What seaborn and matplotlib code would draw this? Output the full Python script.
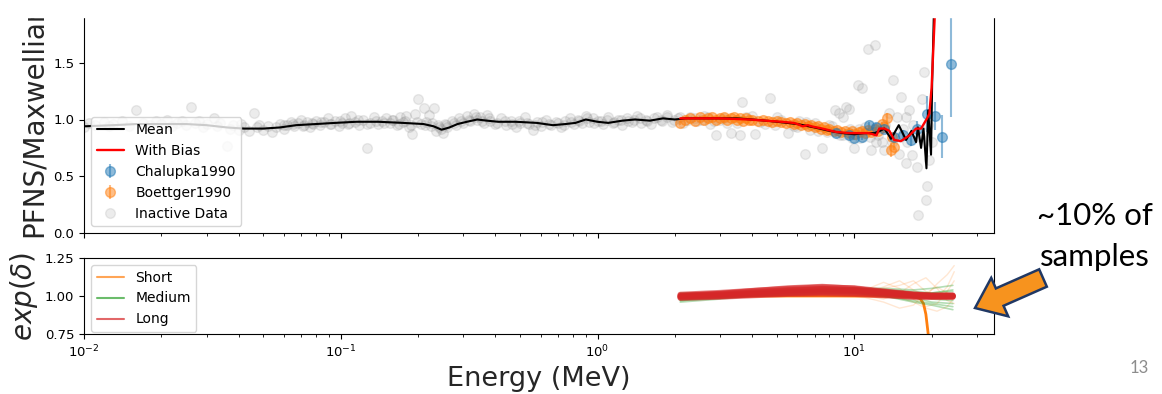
import matplotlib
matplotlib.use("Agg")
import matplotlib.pyplot as plt
from matplotlib.lines import Line2D
from matplotlib.patches import FancyArrow, Rectangle
import pandas as pd
import seaborn as sns

# ---- data ----

# inactive data (gray), low energy band
gray_e_lo = [
    0.0100, 0.0105, 0.011, 0.012, 0.0125, 0.013, 0.014, 0.015, 0.016, 0.017,
    0.018, 0.019, 0.020, 0.021, 0.022, 0.023, 0.024, 0.025, 0.026, 0.027,
    0.028, 0.029, 0.030, 0.032, 0.033, 0.034, 0.036, 0.037, 0.038, 0.040,
    0.041, 0.042, 0.044, 0.046, 0.047, 0.048, 0.050, 0.052, 0.054, 0.056,
    0.058, 0.060, 0.062, 0.064, 0.066, 0.068, 0.070, 0.072, 0.074, 0.076,
    0.078, 0.080, 0.083, 0.086, 0.089, 0.092, 0.095, 0.098, 0.101, 0.104,
    0.107, 0.110, 0.114, 0.118, 0.122, 0.127, 0.130, 0.135, 0.140, 0.145,
    0.150, 0.155, 0.160, 0.165, 0.170, 0.175, 0.180, 0.185, 0.190, 0.195,
    0.200, 0.205, 0.210, 0.215, 0.220, 0.225, 0.230, 0.235, 0.240, 0.245,
    0.250, 0.255, 0.260, 0.270, 0.280, 0.290, 0.300, 0.310, 0.320, 0.330,
    0.340, 0.350, 0.360, 0.370, 0.380, 0.400, 0.420, 0.440, 0.460, 0.480,
    0.500, 0.520, 0.540, 0.560, 0.580, 0.600, 0.630, 0.660, 0.690, 0.720,
    0.750, 0.780, 0.810, 0.840, 0.870, 0.900, 0.930, 0.960, 1.00, 1.05,
    1.10, 1.15, 1.20, 1.25, 1.30, 1.36, 1.42, 1.48, 1.55, 1.62,
    1.70, 1.78, 1.86, 1.95, 2.05, 2.15, 2.30, 2.45, 2.60, 2.75,
]
gray_y_lo = [
    0.93, 0.97, 0.95, 0.98, 0.94, 0.96, 0.99, 0.94, 1.08, 0.97,
    0.95, 0.99, 0.96, 1.00, 0.94, 0.97, 0.99, 0.95, 1.11, 0.97,
    0.99, 0.93, 0.96, 1.01, 0.94, 0.97, 0.77, 0.92, 0.95, 0.91,
    0.96, 0.93, 0.90, 1.06, 0.93, 0.95, 0.91, 0.94, 0.89, 0.93,
    0.96, 0.92, 0.95, 0.98, 0.94, 0.97, 1.00, 0.95, 0.98, 0.93,
    0.96, 0.99, 0.95, 0.98, 1.01, 0.96, 0.99, 0.94, 0.97, 1.01,
    0.96, 1.03, 0.98, 0.95, 1.00, 0.75, 0.97, 1.02, 0.96, 0.99,
    1.01, 0.97, 1.00, 0.95, 1.02, 0.98, 1.03, 0.93, 0.87, 1.05,
    1.18, 0.96, 1.10, 0.98, 1.04, 0.94, 1.10, 0.90, 0.95, 0.92,
    0.88, 0.96, 0.93, 0.99, 0.95, 1.01, 0.97, 1.03, 0.99, 1.05,
    1.00, 1.02, 0.97, 1.04, 0.99, 0.96, 1.01, 0.95, 0.99, 0.93,
    0.97, 1.02, 0.96, 0.91, 0.98, 0.94, 1.00, 0.95, 0.98, 0.93,
    0.99, 1.01, 0.96, 1.00, 0.97, 1.03, 0.98, 1.01, 0.99, 0.96,
    1.02, 0.97, 1.00, 0.95, 1.01, 0.98, 1.03, 0.97, 1.00, 0.96,
    1.02, 0.99, 1.04, 0.98, 1.01, 0.97, 1.02, 0.99, 1.03, 0.96,
]

# extra inactive points packed tight around the mean
gray_e_band = [
    0.060, 0.065, 0.071, 0.077, 0.084, 0.091, 0.099, 0.108, 0.117, 0.126,
    0.137, 0.148, 0.158, 0.168, 0.178, 0.188, 0.198, 0.212, 0.226, 0.242,
    0.258, 0.275, 0.295, 0.315, 0.335, 0.355, 0.378, 0.405, 0.435, 0.465,
    0.495, 0.53, 0.57, 0.61, 0.65, 0.70, 0.74, 0.79, 0.85, 0.91,
    0.97, 1.03, 1.09, 1.16, 1.23, 1.31, 1.39, 1.47, 1.56, 1.66,
    1.76, 1.87, 1.98, 2.10, 2.25, 2.40, 2.55, 2.70, 2.85, 3.10,
]
gray_y_band = [
    0.95, 0.96, 0.94, 0.97, 0.98, 0.96, 0.99, 0.97, 1.00, 0.96,
    0.99, 0.97, 1.00, 0.96, 0.99, 0.95, 0.98, 0.95, 0.97, 0.93,
    0.95, 0.97, 0.99, 1.00, 1.02, 0.99, 1.01, 0.97, 0.99, 0.96,
    0.99, 0.97, 0.95, 0.98, 0.96, 0.97, 0.95, 0.98, 0.99, 1.01,
    0.97, 0.99, 1.00, 0.98, 1.00, 0.99, 1.00, 1.01, 0.99, 1.01,
    1.00, 1.02, 1.00, 1.02, 1.00, 1.01, 1.00, 1.02, 0.99, 1.01,
]

# inactive data (gray), high energy, more scatter
gray_e_hi = [
    2.9, 3.0, 3.2, 3.3, 3.5, 3.6, 3.65, 3.8, 4.0, 4.1,
    4.3, 4.5, 4.7, 4.9, 5.0, 5.2, 5.5, 5.8, 6.0, 6.1,
    6.4, 6.5, 6.7, 7.0, 7.2, 7.5, 7.8, 8.0, 8.2, 8.4,
    8.7, 8.8, 9.0, 9.0, 9.3, 9.5, 9.6, 9.8, 10.0, 10.3,
    10.4, 10.5, 10.7, 11.0, 11.3, 11.5, 11.6, 12.0, 12.1, 12.4,
    12.8, 13.1, 13.2, 13.7, 14.0, 14.2, 14.6, 14.9, 15.0, 15.2,
    15.5, 15.9, 15.9, 16.0, 16.4, 16.8, 17.0, 17.6, 17.7, 18.0,
    18.4, 18.6, 19.1, 19.2, 19.3, 19.6, 20.0,
]
gray_y_hi = [
    0.86, 1.00, 0.97, 0.88, 0.97, 0.86, 1.15, 1.02, 1.03, 0.87,
    0.98, 0.96, 1.19, 0.95, 1.02, 1.00, 0.88, 0.94, 0.93, 0.99,
    0.70, 0.98, 0.91, 0.97, 0.90, 0.75, 0.89, 0.95, 0.94, 1.08,
    1.06, 0.86, 0.86, 1.02, 1.11, 1.09, 0.92, 0.84, 0.75, 1.30,
    0.92, 0.84, 1.28, 0.93, 1.62, 0.85, 0.73, 1.66, 0.80, 0.86,
    0.80, 0.73, 0.95, 1.06, 0.80, 1.35, 1.02, 0.70, 0.85, 1.20,
    0.92, 0.62, 1.02, 0.80, 1.08, 0.69, 0.95, 0.58, 0.16, 0.85,
    1.18, 1.42, 0.29, 0.41, 0.95, 0.64, 0.80,
]

# Boettger1990 (orange)
boet_e = [2.10, 2.2, 2.3, 2.4, 2.5, 2.6, 2.7, 2.8, 2.9, 3.0,
          3.1, 3.2, 3.3, 3.4, 3.5, 3.6, 3.7, 3.8, 3.9, 4.0,
          4.2, 4.4, 4.6, 4.8, 5.0, 5.2, 5.4, 5.6, 5.8, 6.0,
          6.2, 6.4, 6.6, 6.8, 7.0, 7.2, 7.4, 7.6, 7.8, 8.0,
          8.3, 8.6, 8.9, 9.2, 9.5, 9.8, 10.1, 10.4, 10.7, 11.0,
          11.3, 11.6, 12.0, 12.4, 12.8, 13.1, 13.4, 13.9, 14.0, 14.3]
boet_y = [0.97, 1.00, 1.01, 0.99, 1.02, 1.00, 1.01, 1.02, 1.00, 1.01,
          1.02, 1.00, 1.01, 1.02, 1.00, 1.01, 0.99, 1.01, 1.00, 1.00,
          0.99, 1.00, 0.99, 0.98, 0.99, 0.98, 0.97, 0.98, 0.96, 0.97,
          0.95, 0.96, 0.94, 0.95, 0.93, 0.94, 0.92, 0.93, 0.91, 0.92,
          0.90, 0.91, 0.89, 0.90, 0.88, 0.90, 0.87, 0.89, 0.90, 0.88,
          0.91, 0.89, 0.92, 0.90, 0.96, 0.93, 1.01, 0.73, 0.85, 0.76]
boet_err = [0.015] * 56 + [0.05, 0.06, 0.02, 0.03]

# Chalupka1990 (blue)
chal_e = [8.5, 9.5, 10.0, 10.7, 11.4, 12.2, 13.0, 14.3, 15.5, 16.7,
          17.6, 19.2, 20.7, 22.0, 23.8]
chal_y = [0.88, 0.86, 0.84, 0.85, 0.95, 0.93, 0.92, 0.85, 0.86, 0.82,
          0.92, 1.05, 1.03, 0.85, 1.49]
chal_err = [0.02, 0.02, 0.02, 0.03, 0.03, 0.04, 0.04, 0.04, 0.05, 0.05,
            0.07, 0.16, 0.12, 0.19, 0.47]

# mean (black)
mean_e = [0.010, 0.013, 0.016, 0.020, 0.025, 0.030, 0.036, 0.042, 0.050, 0.058,
          0.067, 0.080, 0.095, 0.115, 0.140, 0.175, 0.210, 0.230, 0.247, 0.265,
          0.285, 0.310, 0.340, 0.370, 0.410, 0.480, 0.580, 0.670, 0.750, 0.820,
          0.900, 1.000, 1.100, 1.250, 1.400, 1.600, 1.800, 2.000, 2.200, 2.5,
          3.0, 3.5, 4.0, 4.5, 5.0, 6.0, 7.0, 8.0, 9.0, 10.0,
          11.0, 12.0, 12.6, 13.1, 13.9, 14.9, 15.9, 16.7, 17.4, 17.7,
          18.2, 18.6, 19.1, 19.4, 19.9, 20.1, 20.5]
mean_y = [0.94, 0.95, 0.96, 0.96, 0.96, 0.95, 0.93, 0.92, 0.92, 0.93,
          0.95, 0.96, 0.97, 0.98, 0.98, 0.97, 0.96, 0.94, 0.91, 0.93,
          0.96, 0.98, 1.00, 0.99, 0.98, 0.98, 0.97, 0.95, 0.96, 0.97,
          1.00, 0.98, 0.97, 0.99, 1.00, 0.99, 1.01, 1.00, 1.01, 1.01,
          1.01, 1.01, 1.00, 0.99, 0.98, 0.96, 0.93, 0.90, 0.88, 0.87,
          0.88, 0.88, 0.90, 0.92, 0.83, 0.95, 0.82, 0.90, 0.80, 0.93,
          0.75, 0.92, 0.57, 1.08, 0.69, 1.32, 2.10]

# with bias (red)
bias_e = [2.1, 3.0, 3.9, 4.5, 5.2, 5.8, 6.0, 6.3, 6.6, 6.8,
          7.5, 8.5, 9.6, 10.7, 11.4, 12.2, 12.5, 13.1, 13.7, 14.3,
          15.2, 16.4, 17.4, 18.2, 19.2, 19.6, 20.0, 20.3, 20.7]
bias_y = [1.01, 1.01, 1.00, 0.99, 0.98, 0.97, 0.96, 0.94, 0.95, 0.94,
          0.92, 0.89, 0.88, 0.88, 0.88, 0.86, 0.92, 0.92, 0.90, 0.82,
          0.81, 0.86, 0.92, 0.92, 1.01, 1.05, 1.28, 1.61, 2.05]

# exp(delta) samples, lower panel
samp_e = [2.1, 3.0, 4.0, 5.5, 7.5, 10.0, 13.0, 17.0, 20.0, 24.2]
long_samples = [
    [1.000, 1.010, 1.022, 1.035, 1.045, 1.040, 1.025, 1.008, 1.000, 1.000],
    [0.990, 0.998, 1.008, 1.018, 1.022, 1.018, 1.008, 0.995, 0.993, 0.993],
    [1.010, 1.022, 1.035, 1.048, 1.058, 1.052, 1.032, 1.012, 1.006, 1.006],
    [0.995, 1.005, 1.015, 1.025, 1.030, 1.025, 1.015, 1.000, 0.998, 0.998],
    [1.005, 1.015, 1.028, 1.040, 1.048, 1.042, 1.028, 1.010, 1.003, 1.003],
    [0.986, 0.994, 1.003, 1.012, 1.015, 1.012, 1.003, 0.994, 0.994, 0.994],
    [1.000, 1.016, 1.034, 1.052, 1.062, 1.050, 1.026, 1.005, 1.000, 1.000],
    [0.995, 1.000, 1.010, 1.018, 1.026, 1.030, 1.022, 1.005, 1.000, 1.000],
]
medium_samples = [
    [0.97, 0.99, 1.00, 1.02, 1.03, 1.04, 1.03, 1.00, 0.98, 0.97],
    [1.02, 1.02, 1.03, 1.04, 1.05, 1.05, 1.04, 1.03, 1.02, 1.03],
    [0.96, 0.98, 1.00, 1.01, 1.02, 1.02, 1.00, 0.97, 0.95, 0.93],
    [0.98, 1.00, 1.02, 1.03, 1.04, 1.05, 1.05, 1.04, 1.05, 1.07],
    [1.01, 1.01, 1.02, 1.03, 1.03, 1.03, 1.02, 1.01, 1.00, 1.00],
    [0.975, 0.995, 1.01, 1.025, 1.035, 1.03, 1.01, 0.99, 0.96, 0.95],
    [0.99, 1.00, 1.02, 1.035, 1.045, 1.05, 1.04, 1.02, 1.02, 1.04],
    [0.97, 0.985, 1.005, 1.02, 1.025, 1.02, 1.00, 0.96, 0.94, 0.91],
]
short_e = [2.1, 3.0, 5.0, 8.0, 11.0, 13.0, 15.0, 17.0, 19.0, 21.0, 23.0, 24.5]
short_samples = [
    [1.00, 1.00, 1.00, 1.01, 1.02, 1.06, 1.10, 1.04, 1.00, 1.08, 1.14, 1.20],
    [1.00, 1.01, 1.01, 1.00, 0.99, 0.96, 0.92, 0.94, 1.02, 1.06, 1.02, 1.00],
    [1.00, 1.00, 1.02, 1.03, 1.04, 1.09, 1.05, 0.98, 0.93, 0.95, 1.03, 1.10],
    [1.00, 1.00, 1.00, 1.01, 1.00, 0.98, 1.02, 1.08, 1.12, 1.05, 0.97, 0.95],
    [1.00, 1.01, 1.02, 1.02, 1.03, 1.02, 0.99, 0.96, 0.92, 0.90, 0.93, 0.99],
    [1.01, 1.01, 1.02, 1.03, 1.02, 1.05, 1.07, 1.10, 1.03, 0.99, 1.06, 1.16],
]
# the one short sample that runs away
drop_e = [2.1, 2.5, 3.0, 6.0, 12.0, 17.0, 18.0, 18.6, 19.0, 19.4, 19.8]
drop_y = [1.00, 1.01, 1.00, 1.00, 1.00, 0.995, 0.985, 0.95, 0.88, 0.75, 0.55]


def to_long(energies, samples):
    rows = []
    for k, s in enumerate(samples):
        for e, v in zip(energies, s):
            rows.append({"sample": k, "energy": e, "value": v})
    return pd.DataFrame(rows)


sns.set_style("ticks")
plt.rcParams["font.family"] = ["DejaVu Sans"]
plt.rcParams["axes.edgecolor"] = "black"
plt.rcParams["xtick.color"] = "black"
plt.rcParams["ytick.color"] = "black"
plt.rcParams["text.color"] = "black"

fig = plt.figure(figsize=(11.62, 3.94), dpi=100)
ax1 = fig.add_axes([84 / 1162, 1 - 233 / 394, 910 / 1162, 227 / 394])
ax2 = fig.add_axes([84 / 1162, 1 - 334 / 394, 910 / 1162, 76 / 394])

for ax in (ax1, ax2):
    ax.set_xscale("log")
    ax.set_xlim(0.01, 35)
    ax.tick_params(which="major", length=3.5, width=0.8, labelsize=9.5)
    ax.tick_params(which="minor", length=2, width=0.6)
    for sp in ax.spines.values():
        sp.set_linewidth(0.8)

# ---- top panel ----
h_inact = ax1.errorbar(gray_e_lo + gray_e_band + gray_e_hi,
                       gray_y_lo + gray_y_band + gray_y_hi, fmt="o",
                       color="gray", alpha=0.15, ms=7, zorder=1)
h_boet = ax1.errorbar(boet_e, boet_y, yerr=boet_err, fmt="o", color="C1",
                      alpha=0.5, ms=7, zorder=2)
h_chal = ax1.errorbar(chal_e, chal_y, yerr=chal_err, fmt="o", color="C0",
                      alpha=0.5, ms=7, zorder=2)
sns.lineplot(x=mean_e, y=mean_y, ax=ax1, color="black", lw=1.5,
             estimator=None, sort=False, zorder=3)
sns.lineplot(x=bias_e, y=bias_y, ax=ax1, color="red", lw=1.7,
             estimator=None, sort=False, zorder=4)

ax1.set_ylim(0, 2.0)
ax1.set_yticks([0.0, 0.5, 1.0, 1.5, 2.0])
ax1.tick_params(labelbottom=False)
ax1.set_ylabel("PFNS/Maxwellian", fontsize=20)
ax1.yaxis.set_label_coords(-0.040, 0.5)

handles = [Line2D([], [], color="black", lw=1.5),
           Line2D([], [], color="red", lw=1.7),
           h_chal, h_boet, h_inact]
labels = ["Mean", "With Bias", "Chalupka1990", "Boettger1990", "Inactive Data"]
ax1.legend(handles, labels, loc="lower left", fontsize=10, framealpha=0.8)

# ---- bottom panel ----
sns.lineplot(data=to_long(short_e, short_samples), x="energy", y="value",
             units="sample", estimator=None, color="C1", lw=1.0, alpha=0.18,
             ax=ax2, zorder=1)
sns.lineplot(x=drop_e, y=drop_y, ax=ax2, color="C1", lw=2.0,
             estimator=None, sort=False, zorder=2)
sns.lineplot(data=to_long(samp_e, medium_samples), x="energy", y="value",
             units="sample", estimator=None, color="C2", lw=1.2, alpha=0.35,
             ax=ax2, zorder=3)
sns.lineplot(data=to_long(samp_e, long_samples), x="energy", y="value",
             units="sample", estimator=None, color="C3", lw=4.0, alpha=0.6,
             ax=ax2, zorder=4)

ax2.set_ylim(0.75, 1.25)
ax2.set_yticks([0.75, 1.00, 1.25])
ax2.set_xlabel("Energy (MeV)", fontsize=19.5)
ax2.set_ylabel(r"$exp(\delta)$", fontsize=20)
ax2.yaxis.set_label_coords(-0.048, 0.5)
leg_handles = [Line2D([], [], color=c, lw=1.5, alpha=0.7) for c in ("C1", "C2", "C3")]
ax2.legend(leg_handles, ["Short", "Medium", "Long"], loc="upper left",
           fontsize=10, framealpha=0.8)

# ---- slide decorations ----
fig.patches.append(Rectangle((0, 1 - 17 / 394), 1, 17 / 394, transform=fig.transFigure,
                             color="white", zorder=10))
fig.text(1037 / 1162, 1 - 216 / 394, "~10% of", fontsize=22.5, family="Lato",
         ha="left", va="center")
fig.text(1040 / 1162, 1 - 257 / 394, "samples", fontsize=22.5, family="Lato",
         ha="left", va="center")
fig.text(1130 / 1162, 1 - 368 / 394, "13", fontsize=12, family="Lato",
         color="#8c8c8c", ha="left", va="center")
arrow = FancyArrow(10.43, 1.16, -0.68, -0.30, width=0.19, head_width=0.42,
                   head_length=0.27, length_includes_head=True,
                   fc="#F7931E", ec="#203864", lw=1.8,
                   transform=fig.dpi_scale_trans, zorder=11)
fig.patches.append(arrow)

fig.savefig("out.png", dpi=100)
